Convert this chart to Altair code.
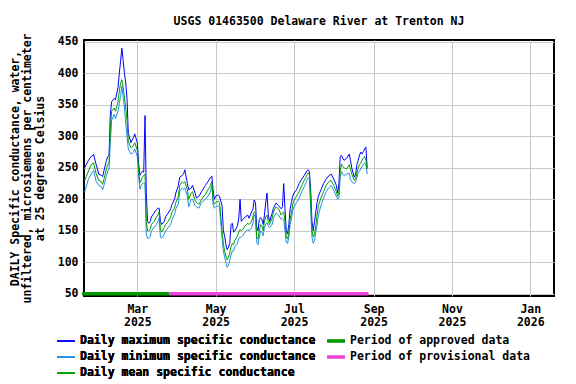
import altair as alt
import pandas as pd

# ---------------- data ----------------
dates = [
    "2025-01-19", "2025-01-22", "2025-01-24", "2025-01-26", "2025-01-28", "2025-01-30",
    "2025-02-01", "2025-02-02", "2025-02-03", "2025-02-05", "2025-02-06", "2025-02-07",
    "2025-02-08", "2025-02-09", "2025-02-11", "2025-02-12", "2025-02-14", "2025-02-15",
    "2025-02-16", "2025-02-17", "2025-02-18", "2025-02-19", "2025-02-20", "2025-02-21",
    "2025-02-22", "2025-02-24", "2025-02-26", "2025-02-27", "2025-03-01", "2025-03-02",
    "2025-03-03", "2025-03-04", "2025-03-05", "2025-03-06", "2025-03-07", "2025-03-08",
    "2025-03-09", "2025-03-10", "2025-03-11", "2025-03-12", "2025-03-14", "2025-03-16",
    "2025-03-17", "2025-03-18", "2025-03-19", "2025-03-20", "2025-03-22", "2025-03-23",
    "2025-03-25", "2025-03-27", "2025-03-28", "2025-03-30", "2025-03-31", "2025-04-02",
    "2025-04-03", "2025-04-05", "2025-04-06", "2025-04-07", "2025-04-09", "2025-04-10",
    "2025-04-12", "2025-04-13", "2025-04-15", "2025-04-16", "2025-04-18", "2025-04-20",
    "2025-04-23", "2025-04-25", "2025-04-27", "2025-04-28", "2025-04-29", "2025-04-30",
    "2025-05-01", "2025-05-03", "2025-05-04", "2025-05-06", "2025-05-07", "2025-05-08",
    "2025-05-09", "2025-05-10", "2025-05-11", "2025-05-12", "2025-05-13", "2025-05-14",
    "2025-05-15", "2025-05-16", "2025-05-18", "2025-05-19", "2025-05-20", "2025-05-21",
    "2025-05-22", "2025-05-24", "2025-05-26", "2025-05-27", "2025-05-29", "2025-05-30",
    "2025-05-31", "2025-06-01", "2025-06-02", "2025-06-03", "2025-06-04", "2025-06-05",
    "2025-06-06", "2025-06-07", "2025-06-08", "2025-06-09", "2025-06-10", "2025-06-11",
    "2025-06-12", "2025-06-14", "2025-06-15", "2025-06-17", "2025-06-19", "2025-06-21",
    "2025-06-22", "2025-06-23", "2025-06-24", "2025-06-25", "2025-06-26", "2025-06-27",
    "2025-06-28", "2025-06-29", "2025-06-30", "2025-07-01", "2025-07-03", "2025-07-05",
    "2025-07-07", "2025-07-09", "2025-07-11", "2025-07-12", "2025-07-13", "2025-07-14",
    "2025-07-15", "2025-07-16", "2025-07-17", "2025-07-18", "2025-07-19", "2025-07-20",
    "2025-07-22", "2025-07-24", "2025-07-26", "2025-07-28", "2025-07-30", "2025-08-01",
    "2025-08-03", "2025-08-04", "2025-08-05", "2025-08-06", "2025-08-07", "2025-08-08",
    "2025-08-09", "2025-08-11", "2025-08-13", "2025-08-14", "2025-08-15", "2025-08-16",
    "2025-08-17", "2025-08-18", "2025-08-19", "2025-08-20", "2025-08-21", "2025-08-22",
    "2025-08-23", "2025-08-24", "2025-08-25", "2025-08-26", "2025-08-27",
]

daily_max = [
    250, 262, 268, 271, 255, 240,
    238, 236, 245, 262, 268, 270,
    335, 355, 360, 358, 378, 400,
    420, 440, 420, 400, 385, 360,
    305, 290, 298, 304, 290, 258,
    238, 242, 245, 243, 333, 210,
    165, 162, 165, 172, 178, 184,
    186, 186, 165, 160, 165, 172,
    178, 185, 192, 200, 210, 222,
    235, 238, 240, 247, 225, 215,
    218, 222, 210, 202, 205, 212,
    222, 228, 235, 237, 215, 200,
    205, 207, 205, 190, 150, 142,
    128, 120, 124, 130, 160, 162,
    148, 150, 158, 170, 200, 165,
    168, 172, 175, 170, 180, 184,
    199, 195, 156, 150, 168, 171,
    168, 160, 175, 195, 210, 175,
    165, 178, 186, 194, 190, 185,
    188, 225, 185, 150, 145, 160,
    185, 195, 205, 210, 215, 225,
    232, 238, 245, 247, 244, 215,
    165, 150, 165, 180, 195, 205,
    215, 225, 232, 237, 240, 232,
    222, 210, 225, 268, 270, 265,
    262, 265, 272, 262, 250, 242,
    235, 240, 255, 262, 270, 275,
    272, 276, 280, 283, 250,
]

daily_mean = [
    230, 245, 255, 258, 240, 230,
    228, 224, 232, 248, 255, 258,
    310, 340, 345, 340, 355, 372,
    385, 390, 378, 362, 345, 325,
    292, 282, 285, 290, 278, 248,
    226, 230, 235, 238, 240, 165,
    150, 150, 152, 160, 165, 172,
    175, 180, 152, 148, 155, 160,
    165, 172, 180, 186, 195, 205,
    222, 228, 226, 228, 215, 200,
    210, 212, 198, 195, 192, 200,
    208, 215, 222, 228, 200, 192,
    195, 197, 195, 150, 130, 118,
    110, 104, 108, 115, 125, 130,
    128, 135, 142, 148, 152, 150,
    152, 158, 162, 160, 165, 172,
    180, 178, 140, 137, 150, 160,
    158, 150, 165, 172, 175, 165,
    160, 170, 180, 188, 185, 175,
    178, 180, 165, 140, 137, 148,
    168, 178, 192, 198, 205, 212,
    222, 230, 238, 242, 240, 200,
    150, 140, 145, 158, 175, 190,
    202, 212, 222, 228, 230, 222,
    212, 205, 210, 245, 256, 252,
    250, 248, 255, 248, 240, 235,
    230, 232, 242, 250, 255, 258,
    262, 265, 268, 262, 248,
]

daily_min = [
    212, 232, 240, 246, 228, 222,
    220, 215, 222, 238, 245, 248,
    290, 325, 335, 328, 340, 352,
    365, 380, 362, 345, 320, 300,
    280, 272, 275, 280, 268, 238,
    216, 222, 225, 226, 225, 145,
    138, 138, 140, 150, 155, 160,
    165, 170, 140, 138, 145, 150,
    155, 160, 168, 176, 185, 193,
    212, 218, 216, 218, 205, 188,
    200, 200, 190, 188, 186, 195,
    200, 205, 212, 222, 192, 186,
    188, 190, 188, 140, 118, 108,
    100, 92, 95, 103, 112, 118,
    118, 125, 130, 138, 140, 140,
    142, 148, 152, 150, 155, 162,
    175, 172, 132, 128, 140, 150,
    148, 142, 155, 160, 163, 158,
    155, 160, 170, 178, 175, 168,
    170, 168, 150, 132, 130, 140,
    160, 168, 182, 188, 195, 202,
    212, 220, 230, 234, 232, 185,
    140, 130, 135, 148, 160, 175,
    190, 202, 212, 218, 222, 214,
    205, 200, 202, 235, 244, 240,
    238, 240, 242, 232, 228, 226,
    225, 228, 235, 242, 245, 248,
    252, 255, 258, 255, 240,
]

series_names = [
    "Daily maximum specific conductance",
    "Daily minimum specific conductance",
    "Daily mean specific conductance",
]
series_colors = ["#0000FF", "#1E8FE0", "#00A000"]

period_names = ["Period of approved data", "Period of provisional data"]
period_colors = ["#009900", "#EE44DD"]
period_start = ["2025-01-17", "2025-03-26"]
period_end = ["2025-03-26", "2025-08-28"]
period_level = [50, 50]

y_ticks = [50, 100, 150, 200, 250, 300, 350, 400, 450]
x_ticks = ["2025-03-01", "2025-05-01", "2025-07-01", "2025-09-01", "2025-11-01", "2026-01-01"]

title_text = "USGS 01463500 Delaware River at Trenton NJ"
y_title = [
    "DAILY Specific conductance, water,",
    "unfiltered, microsiemens per centimeter",
    "at 25 degrees Celsius",
]

# ---------------- build tables ----------------
rows = []
for name, vals in zip(series_names, [daily_max, daily_min, daily_mean]):
    for d, v in zip(dates, vals):
        rows.append({"date": d, "value": v, "series": name})
df = pd.DataFrame(rows)

periods = pd.DataFrame({
    "period": period_names,
    "start": period_start,
    "end": period_end,
    "level": period_level,
})


def dt(s, hours=0):
    y, m, d = (int(p) for p in s.split("-"))
    return alt.DateTime(year=y, month=m, date=d, hours=hours, utc=True)


FONT = "DejaVu Sans Mono"
FS = 11.5
LEGEND_LINE = "M-2,0H2"                 # thin legend line, 18 px long at size 81
LEGEND_BAR = "M-2,-0.4H2V0.4H-2Z"       # thick legend bar, 18 x 3.6 px at size 81

x_scale = alt.Scale(type="utc", domain=[dt("2025-01-18", 12), dt("2026-01-19", 11)], padding=0)
y_scale = alt.Scale(domain=[46.5, 453], nice=False, zero=False, padding=0)

x_enc = alt.X(
    "date:T",
    scale=x_scale,
    axis=alt.Axis(
        values=[dt(s) for s in x_ticks],
        tickCount=30,
        labelExpr="[utcFormat(datum.value, '%b'), utcFormat(datum.value, '%Y')]",
        title=None,
        ticks=False,
        tickSize=0,
        domain=False,
        labelPadding=7,
        labelLineHeight=13,
        labelFlush=False,
        labelOverlap=False,
    ),
)
y_enc = alt.Y(
    "value:Q",
    scale=y_scale,
    axis=alt.Axis(
        values=y_ticks,
        tickCount=30,
        title=y_title,
        titleX=-69,
        titleY=128,
        titleAngle=270,
        titleAlign="center",
        titleBaseline="middle",
        titleLineHeight=12.5,
        ticks=False,
        tickSize=0,
        domain=False,
        labelPadding=6,
        labelOverlap=False,
        labelFlush=False,
    ),
)

color_enc = alt.Color(
    "series:N",
    scale=alt.Scale(domain=series_names, range=series_colors),
    legend=alt.Legend(
        title=None,
        orient="none",
        legendX=-23.75,
        legendY=295.25,
        symbolType=LEGEND_LINE,
        symbolStrokeWidth=1.3,
        symbolSize=81,
        labelOffset=8.25,
        rowPadding=3,
        padding=0,
    ),
)

base = alt.Chart(df)
line_layers = [
    base.transform_filter(alt.datum.series == name)
    .mark_line(strokeWidth=1)
    .encode(x=x_enc, y=y_enc, color=color_enc)
    for name in series_names
]

period_layer = alt.Chart(periods).mark_bar(size=3.5).encode(
    x=alt.X("start:T", scale=x_scale),
    x2="end:T",
    y=alt.Y("level:Q", scale=y_scale),
    fill=alt.Fill(
        "period:N",
        scale=alt.Scale(domain=period_names, range=period_colors),
        legend=alt.Legend(
            title=None,
            orient="none",
            legendX=246.25,
            legendY=295.25,
            symbolType=LEGEND_BAR,
            symbolStrokeWidth=0,
            symbolSize=81,
            labelOffset=8.25,
            rowPadding=3,
            padding=0,
        ),
    ),
)

chart = (
    alt.layer(*line_layers, period_layer)
    .resolve_scale(color="independent", fill="independent")
    .properties(
        width=470,
        height=256,
        title=alt.TitleParams(
            title_text,
            font=FONT,
            fontSize=FS,
            fontWeight="bold",
            anchor="middle",
            frame="group",
            offset=5,
            color="black",
        ),
        autosize=alt.AutoSizeParams(type="none"),
        padding={"left": 76, "top": 32, "right": 14, "bottom": 84},
    )
    .configure_view(stroke="black", strokeWidth=2)
    .configure_axis(
        labelFont=FONT,
        labelFontSize=FS,
        labelFontWeight="bold",
        labelColor="black",
        titleFont=FONT,
        titleFontSize=FS,
        titleFontWeight="bold",
        titleColor="black",
        gridColor="#C8C8C8",
        gridWidth=1,
        gridOpacity=1,
    )
    .configure_legend(
        labelFont=FONT,
        labelFontSize=FS,
        labelFontWeight="bold",
        labelColor="black",
        labelLimit=0,
    )
)

chart.save("out.html", embed_options={"renderer": "svg", "actions": False})
